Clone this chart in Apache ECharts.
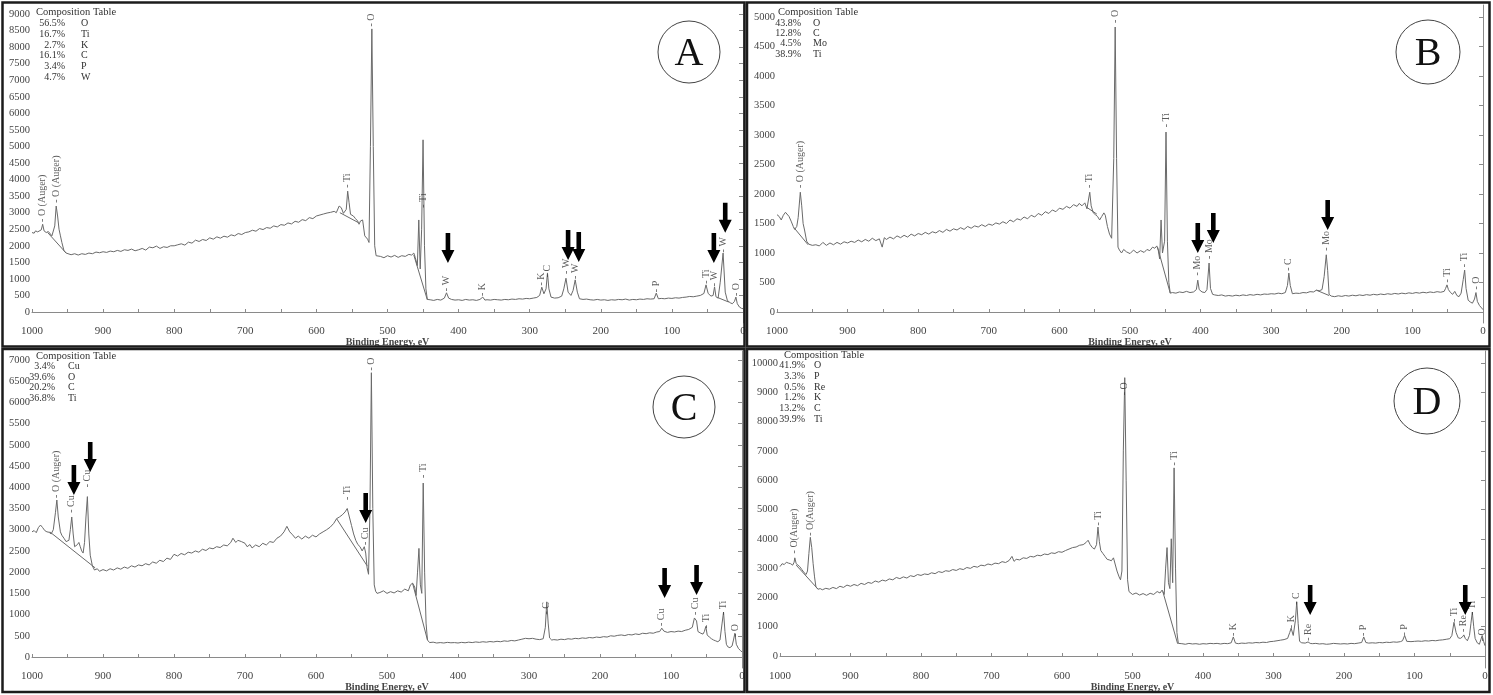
<!DOCTYPE html>
<html><head><meta charset="utf-8">
<script src="https://cdn.jsdelivr.net/npm/echarts@6/dist/echarts.min.js"></script>
<style>html,body{margin:0;padding:0;background:#fff}#c{width:1493px;height:695px}</style>
</head><body><div id="c"></div><script>
// ---------- Panel A ----------
const specA = [
[1000,2400],[997,2380],[995,2450],[992,2420],[990,2430],[987,2480],[985,2650],[983,2450],[980,2400],[977,2430],
[975,2380],[972,2300],[970,2260],[968,2600],[966,3200],[964,2900],[962,2500],[960,2300],[958,2100],[955,1850],
[952,1780],[950,1750],[945,1730],[940,1760],[935,1720],[930,1760],[925,1740],[920,1780],[915,1760],[910,1810],
[905,1790],[900,1820],[895,1800],[890,1840],[885,1820],[880,1860],[875,1830],[870,1880],[865,1860],[860,1900],
[855,1850],[850,1880],[845,1920],[840,1870],[835,1960],[830,1940],[825,1990],[820,1920],[815,1970],[810,1950],
[805,2000],[800,2000],[795,2030],[790,2060],[785,2020],[780,2110],[775,2080],[770,2170],[765,2130],[760,2190],
[755,2160],[750,2240],[745,2200],[740,2270],[735,2230],[730,2290],[725,2260],[720,2330],[715,2300],[710,2370],
[705,2340],[700,2400],[695,2420],[690,2470],[685,2440],[680,2520],[675,2490],[670,2550],[665,2530],[660,2600],
[655,2570],[650,2640],[645,2620],[640,2690],[635,2660],[630,2740],[625,2710],[620,2790],[615,2760],[610,2850],
[605,2820],[600,2900],[595,2930],[590,2960],[585,2990],[580,3010],[575,3040],[572,3000],[568,3200],[565,3150],
[562,2980],[560,2950],[558,3100],[556,3650],[554,3300],[552,2950],[548,2900],[545,2820],[542,2750],[540,2650],
[538,2750],[535,2780],[532,2300],[528,2200],[526,2100],[524,5000],[522,8550],[520,5000],[518,2000],[516,1700],
[514,1650],[510,1680],[505,1640],[500,1700],[495,1660],[490,1710],[485,1650],[480,1700],[475,1680],[470,1740],
[466,1720],[463,1780],[461,1650],[458,1400],[456,2780],[454,1300],[452,2500],[450,5200],[448,2000],[446,700],
[444,380],[440,370],[435,350],[430,380],[425,360],[420,420],[417,580],[414,420],[410,380],[405,360],
[400,370],[395,350],[390,380],[385,360],[380,370],[375,350],[370,380],[366,450],[363,360],[360,370],
[355,360],[350,380],[345,370],[340,360],[335,380],[330,370],[325,390],[320,380],[315,400],[310,390],
[305,410],[300,400],[295,420],[290,440],[286,500],[283,750],[280,550],[277,700],[275,1180],[273,700],
[270,450],[265,420],[260,430],[255,480],[252,700],[249,1020],[246,600],[242,500],[239,650],[236,970],
[233,600],[230,400],[225,380],[220,390],[215,370],[210,360],[205,380],[200,360],[195,370],[190,350],
[185,370],[180,360],[175,380],[170,370],[165,390],[160,360],[155,380],[150,370],[145,390],[140,380],
[135,400],[130,390],[125,400],[122,570],[119,400],[115,410],[110,400],[105,420],[100,410],[95,430],
[90,420],[85,440],[80,450],[75,470],[70,460],[65,480],[60,500],[55,560],[52,820],[49,560],
[45,480],[42,500],[40,760],[38,460],[35,420],[32,900],[28,1780],[25,600],[22,350],[18,280],
[15,250],[12,320],[10,450],[8,250],[5,150],[2,110],[0,100]
];
const bgA = [[[978,2400],[952,1780]], [[567,3000],[541,2700]], [[463,1720],[444,370]], [[36,440],[20,300]]];
const peaksA = [[985,2720,'O (Auger)'],[966,3300,'O (Auger)'],[556,3750,'Ti'],[522,8620,'O'],[449,3150,'Ti'],
[417,630,'W'],[366,480,'K'],[283,800,'K'],[275,1050,'C'],[249,1150,'W'],[236,1000,'W'],[122,600,'P'],
[52,850,'Ti'],[40,780,'W'],[28,1800,'W'],[10,480,'O']];
const arrowsA = [[415,1480],[246,1570],[231,1510],[41,1480],[25,2390]];
const compA = [['56.5%','O'],['16.7%','Ti'],['2.7%','K'],['16.1%','C'],['3.4%','P'],['4.7%','W']];
const yTicksA = [0,500,1000,1500,2000,2500,3000,3500,4000,4500,5000,5500,6000,6500,7000,7500,8000,8500,9000];

// ---------- Panel B ----------
const specB = [
[1000,1650],[997,1620],[994,1560],[991,1640],[988,1690],[986,1720],[983,1620],[980,1540],[977,1450],[975,1400],
[972,1450],[970,1600],[967,2030],[965,1800],[963,1500],[961,1390],[958,1200],[955,1150],[950,1130],[945,1140],
[940,1120],[935,1180],[930,1130],[925,1170],[920,1140],[915,1180],[910,1150],[905,1190],[900,1170],[895,1200],
[890,1180],[885,1220],[880,1190],[875,1230],[870,1200],[865,1250],[860,1210],[855,1240],[851,1100],[848,1260],
[845,1230],[840,1270],[835,1240],[830,1290],[825,1260],[820,1300],[815,1270],[810,1320],[805,1290],[800,1330],
[795,1310],[790,1350],[785,1320],[780,1360],[775,1340],[770,1380],[765,1350],[760,1400],[755,1370],[750,1410],
[745,1390],[740,1430],[735,1400],[730,1450],[725,1420],[720,1460],[715,1440],[710,1480],[705,1450],[700,1490],
[695,1470],[690,1510],[685,1490],[680,1530],[675,1500],[670,1560],[665,1530],[660,1580],[655,1560],[650,1610],
[645,1580],[640,1640],[635,1610],[630,1670],[625,1640],[620,1700],[615,1670],[610,1730],[605,1700],[600,1760],
[595,1740],[590,1790],[585,1760],[580,1820],[575,1790],[572,1840],[568,1800],[564,1850],[561,1750],[559,1720],
[557,2030],[555,1800],[552,1680],[549,1650],[546,1620],[543,1560],[540,1620],[537,1680],[535,1640],[532,1450],
[529,1320],[526,1250],[523,2600],[521,4830],[519,2600],[517,1100],[515,1050],[512,1000],[509,1060],[505,1020],
[500,990],[495,1050],[490,1000],[485,1040],[480,1010],[476,1060],[472,1040],[468,1100],[465,1080],[462,1120],
[460,1050],[458,900],[456,1560],[454,1000],[451,1200],[449,3050],[447,1200],[445,500],[443,320],[440,330],
[435,320],[430,340],[425,330],[420,350],[415,330],[410,340],[406,380],[404,540],[402,380],[398,340],
[394,330],[391,380],[388,830],[386,400],[383,300],[380,290],[375,280],[370,290],[365,270],[360,280],
[355,270],[350,285],[345,275],[340,290],[335,280],[330,295],[325,285],[320,300],[315,290],[310,305],
[305,300],[300,310],[295,305],[290,320],[285,310],[280,330],[277,450],[275,660],[273,450],[270,310],
[265,320],[260,315],[255,330],[250,325],[245,345],[240,340],[236,370],[232,360],[228,380],[225,600],
[222,970],[220,700],[218,300],[215,270],[210,260],[205,275],[200,265],[195,280],[190,270],[185,285],
[180,275],[175,290],[170,280],[165,295],[160,285],[155,300],[150,290],[145,305],[140,295],[135,310],
[130,300],[125,315],[120,305],[115,320],[110,310],[105,325],[100,315],[95,330],[90,320],[85,335],
[80,325],[75,340],[70,330],[65,345],[60,335],[55,350],[53,400],[51,460],[49,380],[46,330],
[43,300],[40,350],[37,280],[34,260],[31,320],[28,550],[26,710],[24,400],[21,200],[18,170],
[15,150],[12,220],[10,330],[8,180],[5,110],[2,70],[0,40]
];
const bgB = [[[976,1430],[956,1140]], [[562,1780],[547,1660]], [[461,1100],[443,320]], [[236,370],[218,280]]];
const peaksB = [[967,2100,'O (Auger)'],[557,2100,'Ti'],[521,4900,'O'],[449,3130,'Ti'],[404,620,'Mo'],[388,900,'Mo'],
[275,700,'C'],[222,1040,'Mo'],[51,500,'Ti'],[26,760,'Ti'],[10,380,'O']];
const arrowsB = [[404,1000],[382,1170],[220,1390]];
const compB = [['43.8%','O'],['12.8%','C'],['4.5%','Mo'],['38.9%','Ti']];
const yTicksB = [0,500,1000,1500,2000,2500,3000,3500,4000,4500,5000];

// ---------- Panel C ----------
const specC = [
[1000,2950],[997,2980],[994,2930],[991,3050],[988,3110],[985,3050],[982,2980],[979,2950],[976,2940],[973,2900],
[970,3000],[967,3400],[965,3700],[963,3300],[960,2950],[958,2870],[955,2800],[952,2720],[950,2700],[948,2750],
[946,3000],[944,3300],[942,2900],[940,2600],[938,2560],[936,2650],[934,2700],[932,2600],[930,2500],[928,2450],
[926,2700],[924,3300],[922,3780],[920,2900],[918,2400],[915,2150],[912,2050],[908,2080],[905,2020],[900,2060],
[895,2030],[890,2080],[885,2050],[880,2100],[875,2070],[870,2120],[865,2090],[860,2150],[855,2120],[850,2170],
[845,2150],[840,2200],[835,2170],[830,2240],[825,2210],[820,2280],[815,2250],[810,2330],[805,2300],[800,2420],
[795,2380],[790,2440],[785,2410],[780,2470],[775,2450],[770,2500],[765,2470],[760,2540],[755,2510],[750,2570],
[745,2550],[740,2600],[735,2580],[730,2640],[725,2620],[720,2700],[717,2800],[713,2700],[710,2750],[705,2720],
[700,2680],[697,2600],[693,2650],[690,2570],[685,2640],[680,2600],[675,2680],[670,2640],[665,2720],[660,2700],
[655,2800],[650,2850],[645,2950],[641,3080],[637,2950],[633,2880],[629,2800],[625,2850],[620,2780],[615,2850],
[610,2800],[605,2870],[600,2830],[595,2900],[590,2950],[585,3000],[580,3060],[575,3150],[571,3260],[567,3300],
[563,3350],[559,3420],[556,3500],[553,3300],[550,3100],[547,2900],[544,2750],[541,2650],[538,2600],[535,2500],
[532,2600],[530,2450],[528,2100],[526,1950],[524,3500],[522,6700],[520,3500],[518,1700],[516,1550],[514,1500],
[510,1520],[505,1560],[500,1500],[495,1540],[490,1510],[485,1560],[480,1530],[475,1600],[470,1560],[467,1700],
[464,1740],[461,1650],[459,1450],[457,2000],[455,2560],[453,1700],[451,1500],[449,4100],[447,2000],[445,800],
[443,400],[440,340],[435,350],[430,330],[425,340],[420,330],[415,345],[410,335],[405,340],[400,330],
[395,345],[390,335],[385,350],[380,340],[375,355],[370,345],[365,360],[360,350],[355,365],[350,355],
[345,370],[340,360],[335,380],[330,370],[325,390],[320,380],[315,400],[310,420],[305,440],[300,430],
[295,440],[290,420],[285,410],[280,430],[277,700],[275,1300],[273,800],[271,450],[268,400],[265,410],
[260,400],[255,420],[250,410],[245,430],[240,420],[235,440],[230,430],[225,450],[220,440],[215,460],
[210,450],[205,470],[200,460],[195,480],[190,470],[185,500],[180,490],[175,510],[170,520],[165,505],
[160,530],[155,520],[150,545],[145,530],[140,560],[135,550],[130,570],[125,560],[120,590],[116,600],
[113,680],[110,610],[105,580],[100,600],[95,590],[90,610],[85,600],[80,630],[75,650],[70,700],
[67,920],[64,850],[62,600],[58,560],[55,540],[53,600],[51,720],[49,520],[46,470],[43,430],
[40,400],[37,380],[34,360],[31,400],[28,800],[26,1060],[24,600],[22,300],[20,240],[17,220],
[14,260],[12,400],[10,560],[8,300],[5,200],[2,150],[0,120]
];
const bgC = [[[975,2950],[911,2100]], [[571,3260],[528,2150]], [[464,1740],[443,400]]];
const peaksC = [[965,3750,'O (Auger)'],[944,3400,'Cu'],[922,4000,'Cu'],[556,3700,'Ti'],[531,2640,'Cu'],[522,6750,'O'],
[449,4220,'Ti'],[275,1000,'C'],[113,730,'Cu'],[66,990,'Cu'],[50,680,'Ti'],[26,990,'Ti'],[9,470,'O']];
const arrowsC = [[941,3820],[918,4360],[530,3160],[109,1390],[64,1460]];
const compC = [['3.4%','Cu'],['39.6%','O'],['20.2%','C'],['36.8%','Ti']];
const yTicksC = [0,500,1000,1500,2000,2500,3000,3500,4000,4500,5000,5500,6000,6500,7000];

// ---------- Panel D ----------
const specD = [
[1000,3050],[997,3150],[994,3120],[991,3200],[988,3170],[985,3150],[982,3100],[980,3200],[979,3350],[977,3150],
[975,3100],[972,3050],[969,2950],[966,2850],[963,2780],[961,2900],[959,3500],[957,4050],[955,3700],[953,3150],
[951,2700],[949,2350],[946,2280],[943,2300],[940,2260],[935,2310],[930,2280],[925,2340],[920,2300],[915,2380],
[910,2340],[905,2420],[900,2380],[895,2440],[890,2400],[885,2480],[880,2440],[875,2510],[870,2480],[865,2560],
[860,2520],[855,2590],[850,2560],[845,2630],[840,2600],[835,2680],[830,2640],[825,2700],[820,2660],[815,2740],
[810,2710],[805,2780],[800,2750],[795,2800],[790,2780],[785,2840],[780,2810],[775,2880],[770,2850],[765,2910],
[760,2890],[755,2950],[750,2920],[745,2980],[740,2950],[735,3020],[730,2990],[725,3060],[720,3030],[715,3100],
[710,3080],[705,3140],[700,3110],[695,3170],[690,3150],[685,3220],[680,3190],[675,3260],[671,3400],[668,3230],
[665,3300],[660,3280],[655,3350],[650,3330],[645,3400],[640,3380],[635,3440],[630,3420],[625,3480],[620,3460],
[615,3520],[610,3500],[605,3560],[600,3540],[595,3600],[590,3650],[585,3700],[580,3720],[575,3780],[570,3800],
[566,3870],[563,3950],[560,3800],[557,3700],[554,3650],[551,3800],[549,4400],[547,3900],[545,3600],[542,3500],
[539,3400],[536,3300],[533,3280],[530,3250],[527,3350],[525,3380],[522,2900],[519,2700],[517,2600],[515,2900],
[513,7000],[511,9500],[509,6000],[507,2600],[505,2200],[500,2100],[495,2150],[490,2080],[485,2130],[480,2070],
[475,2140],[470,2100],[465,2200],[461,2150],[458,2250],[455,2100],[453,3000],[451,3700],[449,2500],[447,2300],
[445,4000],[443,2500],[441,6420],[439,3000],[437,800],[435,430],[430,420],[425,400],[420,430],[415,410],
[410,420],[405,400],[400,420],[395,410],[390,430],[385,420],[380,430],[375,410],[370,430],[365,420],
[360,450],[357,650],[354,440],[350,420],[345,440],[340,430],[335,450],[330,440],[325,460],[320,450],
[315,470],[310,460],[305,490],[300,500],[295,520],[290,540],[285,560],[280,600],[277,800],[275,950],
[272,700],[269,1200],[267,1850],[265,1100],[263,500],[260,450],[255,440],[251,480],[248,430],[245,420],
[240,430],[235,410],[230,420],[225,400],[220,410],[215,430],[210,420],[205,410],[200,420],[195,410],
[190,430],[185,420],[180,440],[175,460],[172,650],[169,460],[165,440],[160,450],[155,440],[150,460],
[145,450],[140,470],[135,460],[130,480],[125,470],[120,490],[117,520],[114,700],[111,500],[105,490],
[100,500],[95,510],[90,500],[85,520],[80,510],[75,530],[70,520],[65,540],[60,550],[55,570],
[50,590],[47,700],[44,1150],[41,800],[38,620],[35,600],[32,650],[30,720],[28,600],[25,520],
[22,700],[20,1100],[18,1500],[16,1000],[14,600],[11,450],[8,400],[6,550],[4,700],[2,500],[0,350]
];
const bgD = [[[977,3100],[946,2280]], [[457,2200],[436,420]]];
const peaksD = [[979,3500,'O(Auger)'],[957,4100,'O(Auger)'],[549,4450,'Ti'],[511,8900,'O'],[441,6500,'Ti'],
[357,680,'K'],[275,950,'K'],[267,1750,'C'],[251,520,'Re'],[172,680,'P'],[114,700,'P'],[44,1160,'Ti'],
[30,820,'Re'],[18,1400,'Ti'],[4,500,'O']];
const arrowsD = [[248,1400],[28,1400]];
const compD = [['41.9%','O'],['3.3%','P'],['0.5%','Re'],['1.2%','K'],['13.2%','C'],['39.9%','Ti']];
const yTicksD = [0,1000,2000,3000,4000,5000,6000,7000,8000,9000,10000];

const letters = ['A','B','C','D'];

// ---------- layout ----------
const FONT = '"Liberation Serif","Times New Roman",serif';
const LINE = '#6a6a6a';
const panels = [
  {spec:specA,bg:bgA,peaks:peaksA,arrows:arrowsA,comp:compA,ticks:yTicksA,
   grid:{left:32,top:5,width:711,height:318},ymin:-332,ymax:9272,
   table:{x:36,y:12,pctX:65,elX:81,row0:23.5,dy:10.7},circle:{cx:689,cy:52,r:31},
   frame:{x:2.5,y:2.5,w:742,h:344}},
  {spec:specB,bg:bgB,peaks:peaksB,arrows:arrowsB,comp:compB,ticks:yTicksB,
   grid:{left:777,top:5,width:706,height:318},ymin:-186,ymax:5203,
   table:{x:778,y:12.5,pctX:801,elX:813,row0:23,dy:10.4},circle:{cx:1428,cy:52,r:32},
   frame:{x:747,y:2.5,w:742.5,h:344}},
  {spec:specC,bg:bgC,peaks:peaksC,arrows:arrowsC,comp:compC,ticks:yTicksC,
   grid:{left:32,top:351,width:710,height:317},ymin:-259,ymax:7212,
   table:{x:36,y:356,pctX:55,elX:68,row0:366.5,dy:10.6},circle:{cx:684,cy:407,r:31},
   frame:{x:2.5,y:349,w:742,h:343}},
  {spec:specD,bg:bgD,peaks:peaksD,arrows:arrowsD,comp:compD,ticks:yTicksD,
   grid:{left:780,top:351,width:705,height:317},ymin:-410,ymax:10410,
   table:{x:784,y:355,pctX:805,elX:814,row0:365.5,dy:10.7},circle:{cx:1427,cy:401,r:33},
   frame:{x:747,y:349,w:742.5,h:343}}
];

const ARROW = 'path://M4.2,0L8.8,0L8.8,17L13,17L6.5,30L0,17L4.2,17Z';
const plain = v => String(v);
const grids=[], xAxes=[], yAxes=[], series=[], graphic=[];
panels.forEach((p,i)=>{
  grids.push(Object.assign({containLabel:false}, p.grid));
  xAxes.push({type:'value',gridIndex:i,inverse:true,min:0,max:1000,interval:100,
    axisLine:{lineStyle:{color:'#8a8a8a',width:1}},
    axisTick:{inside:true,length:3,lineStyle:{color:'#8a8a8a'}},
    minorTick:{show:true,splitNumber:2,length:3,lineStyle:{color:'#8a8a8a'}},
    splitLine:{show:false},
    axisLabel:{formatter:plain,fontFamily:FONT,fontSize:11,color:'#444',margin:3,showMaxLabel:true,showMinLabel:true},
    name:'Binding Energy, eV',nameLocation:'middle',nameGap:9,
    nameTextStyle:{fontFamily:FONT,fontSize:10,fontWeight:'bold',color:'#444',verticalAlign:'top'}});
  yAxes.push({type:'value',gridIndex:i,min:p.ymin,max:p.ymax,
    axisLine:{show:true,lineStyle:{color:'#8a8a8a',width:1}},
    axisTick:{show:true,length:4,customValues:p.ticks,lineStyle:{color:'#8a8a8a'}},
    axisLabel:{formatter:plain,customValues:p.ticks,fontFamily:FONT,fontSize:10.5,color:'#444',margin:2},
    splitLine:{show:false}});
  series.push({type:'line',xAxisIndex:i,yAxisIndex:i,data:p.spec,showSymbol:false,symbol:'none',
    lineStyle:{color:LINE,width:1},silent:true,z:3});
  series.push({type:'lines',coordinateSystem:'cartesian2d',xAxisIndex:i,yAxisIndex:i,
    data:p.bg.map(s=>({coords:s})),lineStyle:{color:LINE,width:1,opacity:1},silent:true,z:3});
  series.push({type:'scatter',xAxisIndex:i,yAxisIndex:i,data:p.peaks,symbolSize:1,
    itemStyle:{color:'rgba(0,0,0,0)'},silent:true,z:4,
    label:{show:true,position:'inside',rotate:90,align:'left',verticalAlign:'middle',
      formatter:q=>'- '+q.data[2],fontFamily:FONT,fontSize:10,color:'#333'}});
  series.push({type:'scatter',xAxisIndex:i,yAxisIndex:i,data:p.arrows,symbol:ARROW,
    symbolSize:[13,30],symbolOffset:[0,'-50%'],itemStyle:{color:'#000',opacity:1},silent:true,z:5});
  const t=p.table;
  graphic.push({type:'text',x:t.x,y:t.y,style:{text:'Composition Table',font:'10.5px '+FONT,fill:'#333',align:'left',verticalAlign:'middle'}});
  p.comp.forEach((r,k)=>{
    graphic.push({type:'text',x:t.pctX,y:t.row0+k*t.dy,style:{text:r[0],font:'10px '+FONT,fill:'#333',align:'right',verticalAlign:'middle'}});
    graphic.push({type:'text',x:t.elX,y:t.row0+k*t.dy,style:{text:r[1],font:'10px '+FONT,fill:'#333',align:'left',verticalAlign:'middle'}});
  });
  const c=p.circle;
  graphic.push({type:'circle',shape:{cx:c.cx,cy:c.cy,r:c.r},style:{fill:'#fff',stroke:'#444',lineWidth:1}});
  graphic.push({type:'text',x:c.cx,y:c.cy+2,style:{text:letters[i],font:'40px '+FONT,fill:'#111',align:'center',verticalAlign:'middle'}});
  const f=p.frame;
  graphic.push({type:'rect',shape:{x:f.x,y:f.y,width:f.w,height:f.h},z:100,
    style:{fill:'none',stroke:'#1c1c1c',lineWidth:2.5}});
});

const chart = echarts.init(document.getElementById('c'),null,{renderer:'canvas'});
chart.setOption({animation:false,backgroundColor:'#fff',grid:grids,xAxis:xAxes,yAxis:yAxes,series:series,graphic:graphic});
</script></body></html>
